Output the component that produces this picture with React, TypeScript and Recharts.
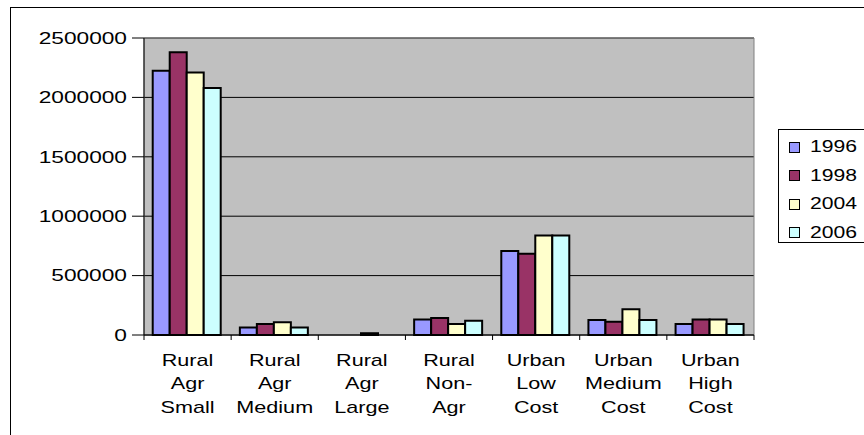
import * as React from "react";
import {
  BarChart,
  Bar,
  XAxis,
  YAxis,
  CartesianGrid,
  Legend,
  ReferenceArea,
} from "recharts";

// categories (line breaks as in the original axis labels)
const categories = [
  "Rural\nAgr\nSmall",
  "Rural\nAgr\nMedium",
  "Rural\nAgr\nLarge",
  "Rural\nNon-\nAgr",
  "Urban\nLow\nCost",
  "Urban\nMedium\nCost",
  "Urban\nHigh\nCost",
];

const y1996 = [2225000, 64000, 0, 131000, 708000, 126000, 92000];
const y1998 = [2380000, 92000, 0, 144000, 683000, 112000, 131000];
const y2004 = [2210000, 108000, 15000, 92000, 838000, 216000, 131000];
const y2006 = [2080000, 64000, 0, 119000, 838000, 126000, 92000];

const yTicks = [0, 500000, 1000000, 1500000, 2000000, 2500000];

const series = [
  { key: "1996", color: "#9999FF" },
  { key: "1998", color: "#993366" },
  { key: "2004", color: "#FFFFCC" },
  { key: "2006", color: "#CCFFFF" },
];

const data = categories.map((c, i) => ({
  category: c,
  "1996": y1996[i],
  "1998": y1998[i],
  "2004": y2004[i],
  "2006": y2006[i],
}));

// layout
const W = 864;
const H = 435;
const PLOT_LEFT = 144;
const PLOT_TOP = 38;
const PLOT_RIGHT = 754;
const PLOT_BOTTOM = 335;
const BAND = (PLOT_RIGHT - PLOT_LEFT) / categories.length;
const FONT = '"Liberation Sans", Arial, sans-serif';
const STRETCH = 1.42; // excel text looks horizontally stretched

const YTick = (props: any) => {
  const { x, y, payload } = props;
  return (
    <g transform={`translate(${x},${y}) scale(${STRETCH},1)`}>
      <text x={0} y={0} dy="0.36em" textAnchor="end" fontSize={16} fontFamily={FONT} fill="#000">
        {payload.value}
      </text>
    </g>
  );
};

const XTick = (props: any) => {
  const { x, y, payload, index } = props;
  const lines = String(payload.value).split("\n");
  const left = x - BAND / 2;
  return (
    <g>
      <line x1={left} y1={y} x2={left} y2={y + 5} stroke="#000" strokeWidth={1} />
      {index === categories.length - 1 && (
        <line x1={x + BAND / 2} y1={y} x2={x + BAND / 2} y2={y + 5} stroke="#000" strokeWidth={1} />
      )}
      {lines.map((ln, i) => (
        <g key={i} transform={`translate(${x},${y + 25 + i * 23.5}) scale(${STRETCH - 0.07},1)`}>
          <text x={0} y={0} dy="0.36em" textAnchor="middle" fontSize={16} fontFamily={FONT} fill="#000">
            {ln}
          </text>
        </g>
      ))}
    </g>
  );
};

const LegendBox = () => (
  <div
    style={{
      border: "1px solid #000",
      background: "#fff",
      height: 114,
      boxSizing: "border-box",
      paddingTop: 3,
    }}
  >
    {series.map((s) => (
      <div key={s.key} style={{ height: 28.5, display: "flex", alignItems: "center" }}>
        <span
          style={{
            display: "inline-block",
            width: 9,
            height: 9,
            marginLeft: 10,
            marginRight: 10,
            background: s.color,
            border: "1.5px solid #000",
          }}
        />
        <span
          style={{
            display: "inline-block",
            fontFamily: FONT,
            fontSize: 16,
            color: "#000",
            transform: `scaleX(${STRETCH - 0.1})`,
            transformOrigin: "left center",
          }}
        >
          {s.key}
        </span>
      </div>
    ))}
  </div>
);

export default function App() {
  return (
    <div style={{ position: "absolute", left: 0, top: 0, width: W, height: H, overflow: "hidden", background: "#fff" }}>
      <div
        style={{
          position: "absolute",
          left: 10,
          top: 7,
          width: W,
          height: H,
          border: "1px solid #000",
        }}
      />
      <div style={{ position: "absolute", left: 0, top: 0 }}>
        <BarChart
          width={W}
          height={H}
          data={data}
          margin={{ top: PLOT_TOP, right: W - PLOT_RIGHT, bottom: 0, left: 0 }}
          barCategoryGap="10%"
          barGap={0}
        >
          <CartesianGrid vertical={false} fill="#C0C0C0" stroke="#000" strokeWidth={1} />
          <XAxis
            dataKey="category"
            height={H - PLOT_BOTTOM}
            tickSize={0}
            tickMargin={0}
            tickLine={false}
            axisLine={{ stroke: "#000" }}
            interval={0}
            tick={<XTick />}
          />
          <YAxis
            width={PLOT_LEFT}
            domain={[0, 2500000]}
            ticks={yTicks}
            tickSize={12}
            tickMargin={5}
            tickLine={{ stroke: "#000" }}
            axisLine={{ stroke: "#000" }}
            tick={<YTick />}
            interval={0}
          />
          <ReferenceArea y1={0} y2={2500000} fill="none" stroke="#808080" strokeWidth={1} ifOverflow="visible" />
          {series.map((s) => (
            <Bar
              key={s.key}
              dataKey={s.key}
              name={s.key}
              fill={s.color}
              stroke="#000"
              strokeWidth={2}
              isAnimationActive={false}
            />
          ))}
          <Legend
            layout="vertical"
            align="center"
            verticalAlign="middle"
            content={<LegendBox />}
            wrapperStyle={{ left: 778, top: 129, width: 90 }}
          />
        </BarChart>
      </div>
    </div>
  );
}
